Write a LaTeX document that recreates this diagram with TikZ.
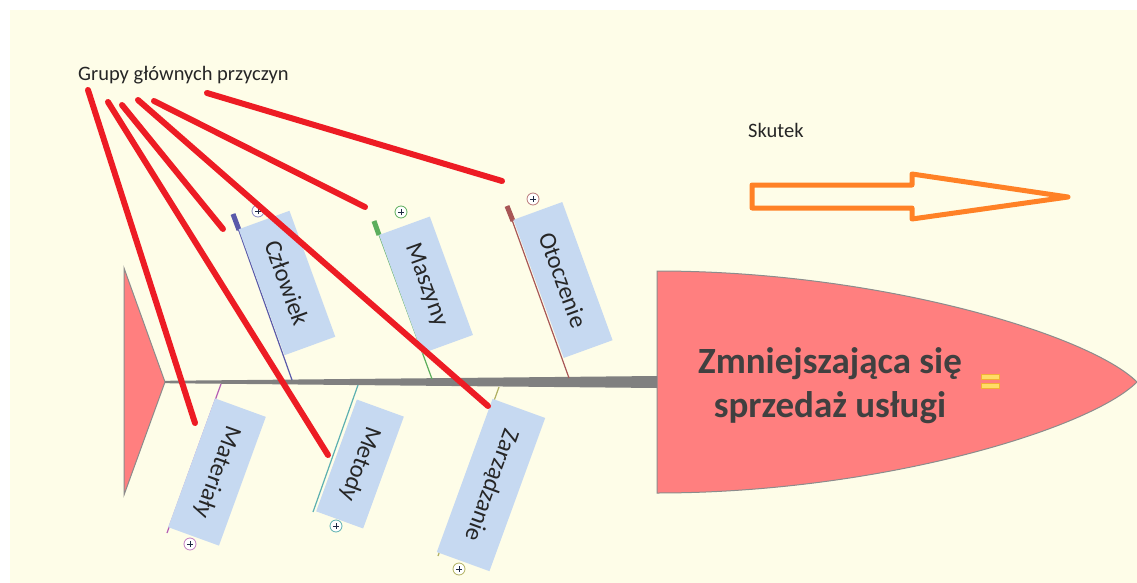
\documentclass[tikz,border=0pt]{standalone}
\usepackage{fontspec}
\setmainfont{Carlito}
\usetikzlibrary{calc}
\definecolor{paper}{HTML}{FEFDE8}
\definecolor{fishpink}{HTML}{FF7F7F}
\definecolor{outline}{HTML}{8C8C8C}
\definecolor{spinegray}{HTML}{808080}
\definecolor{boxblue}{HTML}{C6D9F1}
\definecolor{txtdark}{HTML}{262626}
\definecolor{headtxt}{HTML}{404040}
\definecolor{redmark}{HTML}{ED1C24}
\definecolor{arroworange}{HTML}{FF8126}
\definecolor{cman}{HTML}{5A5AAA}
\definecolor{cmach}{HTML}{5CAE5C}
\definecolor{cenv}{HTML}{A85656}
\definecolor{cmat}{HTML}{B45CB4}
\definecolor{cmeth}{HTML}{5CB0B0}
\definecolor{cmgmt}{HTML}{B0B060}
\definecolor{navy}{HTML}{1F2A44}
\definecolor{eqyellow}{HTML}{FFDD66}
\definecolor{eqedge}{HTML}{F2B035}
\begin{document}
\begin{tikzpicture}[x=1pt,y=-1pt,
  redline/.style={draw=redmark, line width=6pt, line cap=round},
  bone/.style={line width=1.2pt},
  handle/.style={line width=5pt},
  catbox/.style={fill=boxblue, inner sep=0pt, text=txtdark,
    font=\fontsize{24.5}{28}\selectfont},
  upbox/.style={catbox, rotate=-70},
  downbox/.style={catbox, rotate=-110},
  expander/.style={circle, draw=#1, fill=white, line width=0.8pt,
    inner sep=0pt, minimum size=12pt,
    path picture={
      \draw[navy, line width=0.9pt]
        ($(path picture bounding box.center)+(-3pt,0)$) -- ($(path picture bounding box.center)+(3pt,0)$)
        ($(path picture bounding box.center)+(0,-3pt)$) -- ($(path picture bounding box.center)+(0,3pt)$);}},
  labeltext/.style={text=txtdark, inner sep=0pt, font=\fontsize{20.5}{24}\selectfont},
  headtext/.style={text=headtxt, inner sep=0pt, font=\fontsize{37}{44}\selectfont\bfseries}
]
\useasboundingbox (0,0) rectangle (1137,583);
% page and canvas
\fill[white] (0,0) rectangle (1137,583);
\fill[paper] (10,10) rectangle (1137,583);

% tail fin
\coordinate (tailtip) at (165,382);
\filldraw[fill=fishpink, draw=outline, line width=1pt]
  (124,268) -- (tailtip) -- (124,495) -- cycle;

% head
\coordinate (headbase) at (657,382);
\filldraw[fill=fishpink, draw=outline, line width=1pt]
  (657,271) .. controls (880,271) and (1090,335) .. (1137,382)
  .. controls (1090,429) and (880,493) .. (657,493) -- cycle;

% spine, widening towards the head
\fill[spinegray] ($(tailtip)+(0,-1.2)$) -- ($(headbase)+(0,-6)$)
  -- ($(headbase)+(0,6)$) -- ($(tailtip)+(0,1.2)$) -- cycle;

% upper bones
\coordinate (man-top) at (233,214);   \coordinate (man-hd) at (239,230);   \coordinate (man-foot) at (292,380);
\coordinate (mach-top) at (374,221);  \coordinate (mach-hd) at (379,235);  \coordinate (mach-foot) at (432,379);
\coordinate (env-top) at (507,206);   \coordinate (env-hd) at (513,221);   \coordinate (env-foot) at (569,378);
\draw[bone, cman] (man-top) -- (man-foot);
\draw[handle, cman] (man-top) -- (man-hd);
\draw[bone, cmach] (mach-top) -- (mach-foot);
\draw[handle, cmach] (mach-top) -- (mach-hd);
\draw[bone, cenv] (env-top) -- (env-foot);
\draw[handle, cenv] (env-top) -- (env-hd);

% lower bones
\coordinate (mat-top) at (221,384);   \coordinate (mat-foot) at (167,533);
\coordinate (meth-top) at (358,385);  \coordinate (meth-foot) at (313,512);
\coordinate (mgmt-top) at (499,387);  \coordinate (mgmt-foot) at (438,556);
\draw[bone, cmat] (mat-top) -- (mat-foot);
\draw[bone, cmeth] (meth-top) -- (meth-foot);
\draw[bone, cmgmt] (mgmt-top) -- (mgmt-foot);

% category boxes
\node[upbox, minimum width=134pt, minimum height=54pt] (man) at (287,283) {Człowiek};
\node[upbox, minimum width=126pt, minimum height=54pt] (mach) at (426,285) {Maszyny};
\node[upbox, minimum width=147pt, minimum height=52pt] (env) at (563,280) {Otoczenie};
\node[downbox, minimum width=137pt, minimum height=54pt] (mat) at (217,472) {Materiały};
\node[downbox, minimum width=119pt, minimum height=50pt] (meth) at (360,464) {Metody};
\node[downbox, minimum width=163pt, minimum height=56pt] (mgmt) at (491,485) {Zarządzanie};

% expand markers
\node[expander=cman!70] (man-x) at (258,211) {};
\node[expander=cmach] (mach-x) at (401,212) {};
\node[expander=cenv!80] (env-x) at (533,199) {};
\node[expander=cmat!80] (mat-x) at (190,544) {};
\node[expander=cmeth] (meth-x) at (336,526) {};
\node[expander=cmgmt] (mgmt-x) at (459,569) {};

% effect text in the head
\node[headtext, anchor=base] (eff1) at (830,373) {Zmniejszająca się};
\node[headtext, anchor=base] (eff2) at (830,417) {sprzedaż usługi};
\filldraw[fill=eqyellow, draw=eqedge, line width=0.8pt] (981,374.5) rectangle (999,379.5);
\filldraw[fill=eqyellow, draw=eqedge, line width=0.8pt] (981,383.5) rectangle (999,388.5);

% captions
\node[labeltext, anchor=base west] (groups) at (78,81) {Grupy głównych przyczyn};
\node[labeltext, anchor=base west] (effect) at (748,138) {Skutek};

% effect arrow
\draw[arroworange, line width=5pt, line join=round]
  (752,185) -- (912,185) -- (912,174) -- (1068,197) -- (912,219) -- (912,208) -- (752,208) -- cycle;

% pointer lines from the caption
\coordinate (g1) at (88,90);   \coordinate (p-mat) at (195,423);
\coordinate (g2) at (108,102); \coordinate (p-meth) at (328,455);
\coordinate (g3) at (122,105); \coordinate (p-man) at (223,229);
\coordinate (g4) at (138,100); \coordinate (p-mgmt) at (488,406);
\coordinate (g5) at (154,101); \coordinate (p-mach) at (365,207);
\coordinate (g6) at (207,93);  \coordinate (p-env) at (502,181);
\draw[redline] (g1) -- (p-mat);
\draw[redline] (g2) -- (p-meth);
\draw[redline] (g3) -- (p-man);
\draw[redline] (g4) -- (p-mgmt);
\draw[redline] (g5) -- (p-mach);
\draw[redline] (g6) -- (p-env);
\end{tikzpicture}
\end{document}
